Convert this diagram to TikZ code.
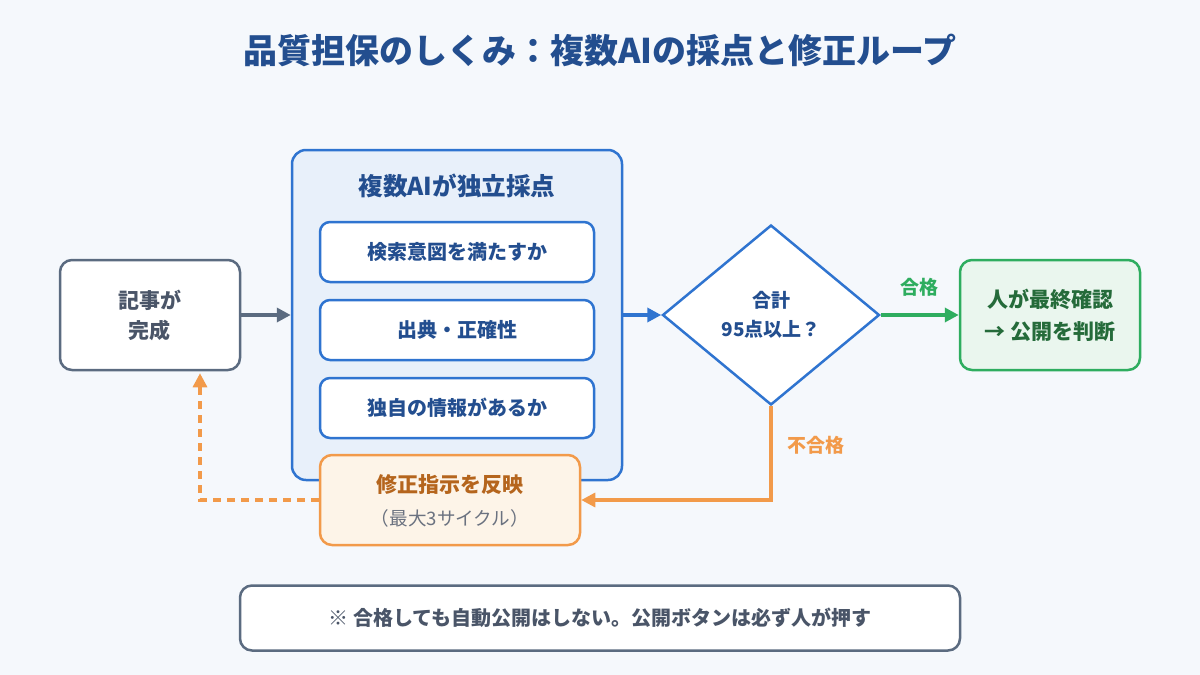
\documentclass[tikz,border=0pt]{standalone}
\usepackage{fontspec}
\setmainfont{Noto Sans CJK JP}
\usetikzlibrary{shapes.geometric,arrows.meta,calc}
\definecolor{bg}{HTML}{F5F8FC}
\definecolor{titleblue}{HTML}{234E8F}
\definecolor{bigfill}{HTML}{E8F0FA}
\definecolor{blueline}{HTML}{2F74D0}
\definecolor{grayline}{HTML}{5B6B80}
\definecolor{graytext}{HTML}{4A5568}
\definecolor{greenline}{HTML}{2EAD5F}
\definecolor{greenfill}{HTML}{EAF6EE}
\definecolor{greentext}{HTML}{256B3A}
\definecolor{orangeline}{HTML}{F29A4A}
\definecolor{orangefill}{HTML}{FDF4E8}
\definecolor{orangetext}{HTML}{B5651D}
\definecolor{subgray}{HTML}{6B7280}
\tikzset{
  box/.style={rectangle, rounded corners=6pt, line width=1.25pt, align=center, inner sep=0pt},
  graybox/.style={box, draw=grayline, fill=white, text=graytext, font=\fontsize{10.5}{15}\selectfont\bfseries},
  bigbox/.style={box, draw=blueline, fill=bigfill, rounded corners=7pt},
  innerbox/.style={box, draw=blueline, fill=white, text=titleblue, rounded corners=5pt, font=\fontsize{10}{12}\selectfont\bfseries, minimum width=137pt, minimum height=30pt},
  decision/.style={diamond, draw=blueline, fill=white, line width=1.25pt, inner sep=0pt, shape aspect=1.2, minimum width=108.5pt, minimum height=90pt, text=titleblue, align=center, font=\fontsize{9.5}{14.5}\selectfont\bfseries},
  greenbox/.style={box, draw=greenline, fill=greenfill, text=greentext, font=\fontsize{10.5}{16}\selectfont\bfseries},
  orangebox/.style={box, draw=orangeline, fill=orangefill},
  arr/.style={line width=2pt, -{Triangle[length=7pt,width=7pt]}},
}
\begin{document}
\begin{tikzpicture}[x=0.5pt,y=-0.5pt]
\fill[bg] (0,0) rectangle (1200,675);
\useasboundingbox (0,0) rectangle (1200,675);

\node[text=titleblue, font=\fontsize{17}{20}\selectfont\bfseries] (title) at (600,50) {品質担保のしくみ：複数AIの採点と修正ループ};

\node[graybox, minimum width=90pt, minimum height=55pt] (done) at (150,315) {記事が\\完成};

\node[bigbox, minimum width=165pt, minimum height=165pt] (big) at (457,315) {};
\node[text=titleblue, font=\fontsize{12.3}{14}\selectfont\bfseries] (bigtitle) at (457,186) {複数AIが独立採点};
\node[innerbox] (c1) at (457,252) {検索意図を満たすか};
\node[innerbox] (c2) at (457,330) {出典・正確性};
\node[innerbox] (c3) at (457,408) {独自の情報があるか};

\node[decision] (dia) at (771,315) {合計\\95点以上？};

\node[greenbox, minimum width=90pt, minimum height=55pt] (ok) at (1050,315) {人が最終確認\\→ 公開を判断};

\node[orangebox, minimum width=130pt, minimum height=45pt] (fix) at (450,500) {};
\node[text=orangetext, font=\fontsize{10.5}{12}\selectfont\bfseries] (fixt) at (450,485) {修正指示を反映};
\node[text=subgray, font=\fontsize{9.3}{11}\selectfont] (fixs) at (450,518) {（最大3サイクル）};

\node[box, draw=grayline, fill=white, text=graytext, minimum width=360pt, minimum height=32.5pt, font=\fontsize{10}{12}\selectfont\bfseries] (note) at (600,618) {※ 合格しても自動公開はしない。公開ボタンは必ず人が押す};

\draw[arr, grayline] (done.east) -- (big.west);
\draw[arr, blueline] (big.east) -- (dia.west);
\draw[arr, greenline] (dia.east) -- (ok.west) node[midway, above=5pt, text=greenline, font=\fontsize{9.5}{12}\selectfont\bfseries] {合格};
\draw[line width=1.6pt, orangeline, -{Triangle[length=7pt,width=7pt]}] (dia.south) |- (fix.east) node[pos=0.21, right=4pt, text=orangeline, font=\fontsize{9.5}{12}\selectfont\bfseries] {不合格};
\draw[line width=1.6pt, orangeline, dash pattern=on 4pt off 3pt, -{Triangle[length=7pt,width=7pt]}] (fix.west) -| ([xshift=25pt, yshift=-1pt]done.south);
\end{tikzpicture}
\end{document}
